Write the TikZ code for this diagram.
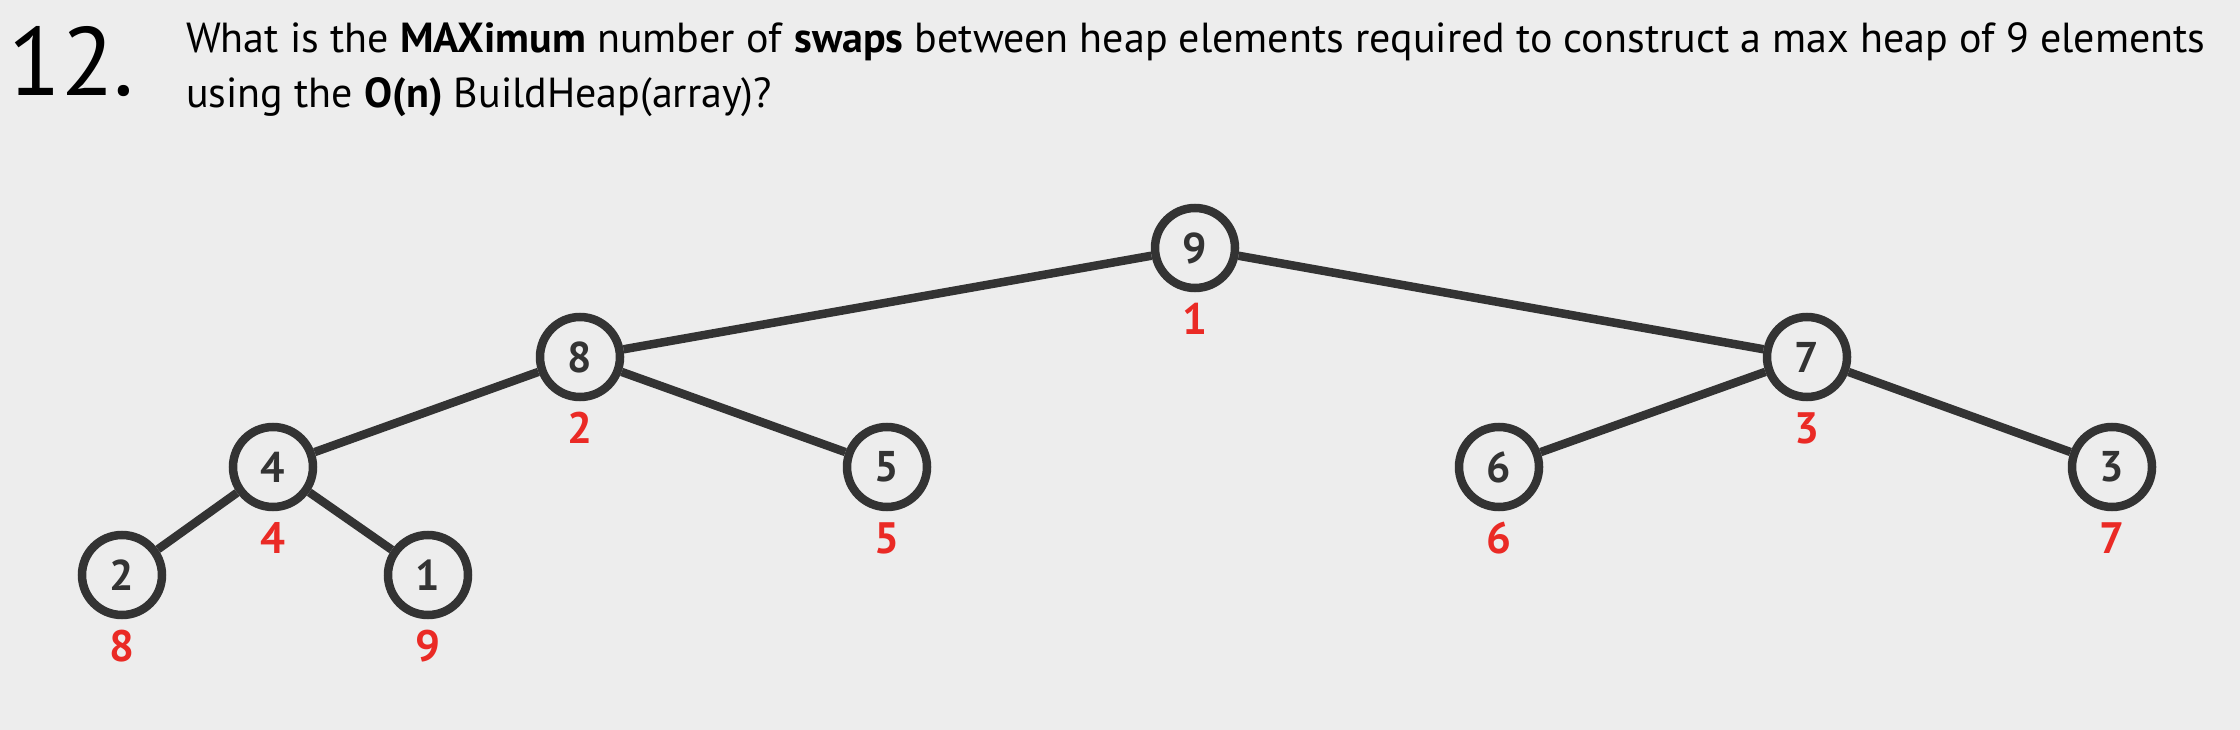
\documentclass[tikz,border=0pt]{standalone}
\usepackage{fontspec}
\setmainfont{PT Sans}
\definecolor{bg}{HTML}{EDEDED}
\definecolor{ink}{HTML}{333333}
\definecolor{idx}{HTML}{EA2A25}
\begin{document}
\begin{tikzpicture}[x=1pt,y=-1pt,
  hnode/.style={circle,draw=ink,line width=8.5pt,minimum size=80pt,inner sep=0pt,
    font=\fontsize{43}{43}\selectfont\bfseries,text=ink},
  idxlbl/.style={font=\fontsize{44}{44}\selectfont\bfseries,text=idx},
  edge/.style={draw=ink,line width=8.5pt},
  qtext/.style={anchor=base west,inner sep=0pt,font=\fontsize{42}{42}\selectfont,text=black}]
\fill[bg] (0,0) rectangle (2240,730);
\useasboundingbox (0,0) rectangle (2240,730);
\node[anchor=base west,inner sep=0pt,font=\fontsize{97}{97}\selectfont,text=black] (num) at (8,96) {12.};
\node[qtext] (q1) at (186,53) {What is the \textbf{MAXimum} number of \textbf{swaps} between heap elements required to construct a max heap of 9 elements};
\node[qtext] (q2) at (186,108) {using the \textbf{O(n)} BuildHeap(array)?};
\node[hnode] (n1) at (1195,248) {9};
\node[hnode] (n2) at (580,357) {8};
\node[hnode] (n3) at (1807,357) {7};
\node[hnode] (n4) at (273,467) {4};
\node[hnode] (n5) at (887,467) {5};
\node[hnode] (n6) at (1499,467) {6};
\node[hnode] (n7) at (2112,467) {3};
\node[hnode] (n8) at (122,575) {2};
\node[hnode] (n9) at (428,575) {1};
\foreach \i in {1,...,9}{\node[idxlbl] (l\i) at ([yshift=-71pt]n\i.center) {\i};}
\draw[edge] (n1) -- (n2);
\draw[edge] (n1) -- (n3);
\draw[edge] (n2) -- (n4);
\draw[edge] (n2) -- (n5);
\draw[edge] (n3) -- (n6);
\draw[edge] (n3) -- (n7);
\draw[edge] (n4) -- (n8);
\draw[edge] (n4) -- (n9);
\end{tikzpicture}
\end{document}
